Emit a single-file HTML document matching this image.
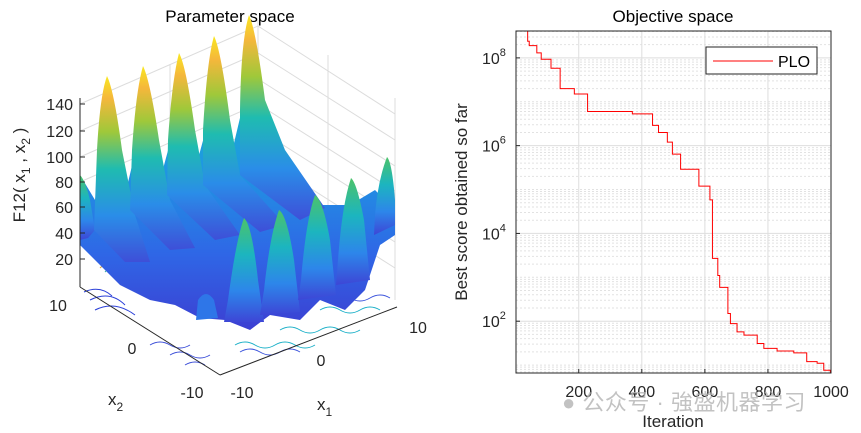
<!DOCTYPE html>
<html><head><meta charset="utf-8"><style>
html,body{margin:0;padding:0;background:#fff;}
svg{display:block;font-family:"Liberation Sans","Noto Sans CJK SC",sans-serif;}
</style></head><body>
<svg id="root" width="861" height="433" viewBox="0 0 861 433">
<defs>
<linearGradient id="pk" x1="0" y1="0" x2="0" y2="1">
<stop offset="0" stop-color="#f9e721"/><stop offset="0.12" stop-color="#f5b73b"/><stop offset="0.3" stop-color="#9fc83a"/><stop offset="0.5" stop-color="#1fbcb0"/><stop offset="0.75" stop-color="#2a8de8"/><stop offset="1" stop-color="#3e4fd8"/>
</linearGradient>
<linearGradient id="sm" x1="0" y1="0" x2="0" y2="1">
<stop offset="0" stop-color="#4cc36a"/><stop offset="0.35" stop-color="#1cb5bf"/><stop offset="0.7" stop-color="#2d86ea"/><stop offset="1" stop-color="#3d46d6"/>
</linearGradient>
<linearGradient id="base" x1="0" y1="0" x2="0" y2="1">
<stop offset="0" stop-color="#19b8c8"/><stop offset="0.35" stop-color="#1f97e2"/><stop offset="0.7" stop-color="#2f66e6"/><stop offset="1" stop-color="#3c3fd2"/>
</linearGradient>
</defs>

<!-- LEFT 3D PLOT -->
<g>
<text x="230" y="22" font-size="17" text-anchor="middle" fill="#000">Parameter space</text>
<g stroke="#dcdcdc" stroke-width="1" fill="none">
<line x1="170" y1="64" x2="170" y2="200"/><line x1="258" y1="20" x2="258" y2="200"/>
<line x1="328" y1="55" x2="328" y2="240"/><line x1="395" y1="98" x2="395" y2="300"/>
<line x1="80" y1="104" x2="258" y2="26"/><line x1="80" y1="131" x2="258" y2="53"/><line x1="80" y1="157" x2="258" y2="79"/>
<line x1="80" y1="182" x2="258" y2="104"/><line x1="80" y1="207" x2="258" y2="129"/>
<line x1="258" y1="26" x2="395" y2="114"/><line x1="258" y1="53" x2="395" y2="140"/><line x1="258" y1="79" x2="395" y2="166"/>
<line x1="258" y1="104" x2="395" y2="191"/><line x1="258" y1="129" x2="395" y2="216"/><line x1="258" y1="155" x2="395" y2="242"/><line x1="258" y1="181" x2="395" y2="268"/>
</g>
<g fill="none" stroke-width="1">
<path d="M84,292 Q100,285 112,296 M90,300 Q110,290 125,305 M95,310 Q115,300 135,315" stroke="#2a3fd8"/>
<path d="M100,268 Q110,258 118,268" stroke="#e2a33a"/>
<path d="M105,272 Q112,264 120,273" stroke="#36b39a"/>
<path d="M150,345 q10,-6 20,0 q10,6 20,0 M170,355 q10,-6 20,0 q10,6 20,0 M185,365 q10,-6 20,0" stroke="#3b4ed8"/>
<path d="M235,345 q10,-6 20,0 q10,6 20,0 q10,-6 20,0 q10,6 20,0 M280,330 q10,-6 20,0 q10,6 20,0 q10,-6 20,0 q10,6 20,0 M320,310 q10,-6 20,0 q10,6 20,0 q10,-6 20,0" stroke="#1db0c8"/>
<path d="M240,352 q10,-6 20,0 q10,6 20,0 q10,-6 20,0 M330,298 q10,-6 20,0 q10,6 20,0 q10,-6 20,0" stroke="#3c54dc"/>
</g>
<path d="M80,175 L95,200 L107,130 L125,195 L143,120 L160,180 L179,110 L195,170 L214,100 L230,160 L249,80 L275,150 L300,190 L320,205 L350,205 L375,190 L395,210 L395,235 L380,245 L365,290 L345,310 L320,300 L300,320 L270,315 L250,330 L225,320 L200,318 L175,305 L150,300 L120,285 L100,265 L85,250 L80,245 Z" fill="url(#base)"/>
<g>
<path d="M80,175 Q85,180 90,200 L95,230 L88,238 L80,240 Z" fill="url(#sm)"/>
<path d="M107,76 Q100,95 97,150 L94,230 L125,262 L150,262 L135,215 L122,150 Q114,90 107,76 Z" fill="url(#pk)"/>
<path d="M143,66 Q136,90 132,150 L130,210 L170,250 L195,248 L170,200 L159,140 Q150,80 143,66 Z" fill="url(#pk)"/>
<path d="M179,53 Q172,80 168,140 L167,195 L215,240 L240,235 L205,185 L195,130 Q186,65 179,53 Z" fill="url(#pk)"/>
<path d="M214,36 Q207,60 203,130 L203,185 L260,232 L285,225 L240,175 L230,120 Q221,50 214,36 Z" fill="url(#pk)"/>
<path d="M249,15 Q241,40 240,110 L240,175 L300,220 L325,208 L285,150 L275,125 L265,100 Q256,30 249,15 Z" fill="url(#pk)"/>
</g>
<g>
<path d="M244,218 Q236,240 228,300 L224,322 L264,322 L258,280 Q252,225 244,218 Z" fill="url(#sm)"/>
<path d="M279,210 Q270,235 264,290 L260,315 L300,312 L294,260 Q287,215 279,210 Z" fill="url(#sm)"/>
<path d="M315,195 Q306,220 301,280 L298,300 L336,295 L330,240 Q323,200 315,195 Z" fill="url(#sm)"/>
<path d="M351,178 Q342,205 338,260 L336,285 L370,280 L364,220 Q357,183 351,178 Z" fill="url(#sm)"/>
<path d="M387,157 Q378,180 375,215 L374,235 L395,225 L395,200 Q392,162 387,157 Z" fill="url(#sm)"/>
<path d="M198,300 Q206,288 214,300 L218,318 L196,320 Z" fill="#2e76e8"/>
</g>
<g stroke="#262626" stroke-width="1" fill="none">
<line x1="80" y1="98" x2="80" y2="287"/>
<line x1="80" y1="287" x2="220" y2="375"/>
<line x1="220" y1="375" x2="397" y2="307"/>
<g><line x1="80" y1="104" x2="85" y2="104"/><line x1="80" y1="131" x2="85" y2="131"/><line x1="80" y1="157" x2="85" y2="157"/><line x1="80" y1="182" x2="85" y2="182"/><line x1="80" y1="207" x2="85" y2="207"/><line x1="80" y1="233" x2="85" y2="233"/><line x1="80" y1="259" x2="85" y2="259"/></g>
</g>
<g font-size="16" fill="#262626" text-anchor="end">
<text x="73" y="110">140</text><text x="73" y="137">120</text><text x="73" y="163">100</text><text x="73" y="188">80</text><text x="73" y="213">60</text><text x="73" y="239">40</text><text x="73" y="265">20</text>
</g>
<g font-size="16" fill="#262626" text-anchor="middle">
<text x="58" y="311">10</text><text x="132" y="354">0</text><text x="192" y="398">-10</text>
<text x="242" y="398">-10</text><text x="321" y="366">0</text><text x="418" y="333">10</text>
</g>
<text transform="translate(25,175) rotate(-90)" font-size="17" text-anchor="middle" fill="#262626">F12( x<tspan font-size="12" dy="5">1</tspan><tspan dy="-5"> , x</tspan><tspan font-size="12" dy="5">2</tspan><tspan dy="-5"> )</tspan></text>
<text x="108" y="405" font-size="17" fill="#262626">x<tspan font-size="12" dy="6">2</tspan></text>
<text x="317" y="410" font-size="17" fill="#262626">x<tspan font-size="12" dy="6">1</tspan></text>
</g>

<!-- RIGHT PLOT -->
<g>
<text x="673" y="22" font-size="17" text-anchor="middle" fill="#000">Objective space</text>
<rect x="516" y="31" width="315" height="342" fill="#fff"/>
<g id="grid"></g>
<path id="line" fill="none" stroke="#ff0000" stroke-width="1"/>
<rect x="516" y="31" width="315" height="342" fill="none" stroke="#262626" stroke-width="1"/>
<g id="ticks" font-size="16" fill="#262626"></g>
<text transform="translate(467,202) rotate(-90)" font-size="17" text-anchor="middle" fill="#262626">Best score obtained so far</text>
<text x="673" y="427" font-size="17" text-anchor="middle" fill="#262626">Iteration</text>
<g>
<rect x="706" y="47" width="111" height="27" fill="#fff" stroke="#262626" stroke-width="1"/>
<line x1="713" y1="61" x2="773" y2="61" stroke="#ff0000"/>
<text x="778" y="67" font-size="16" fill="#000">PLO</text>
</g>
<text x="562" y="410" font-size="22" letter-spacing="0.5" fill="#b4b4b4" opacity="0.8">● 公众号 · 強盛机器学习</text>
</g>
</svg>
<script>
const iterations=[1,38,43,67,81,112,141,186,228,370,434,453,481,497,523,581,616,624,641,647,673,681,702,724,766,787,829,882,923,956,977,998,1000];
const scores=[4.1e8,2.4e8,1.9e8,1.3e8,9.3e7,5.8e7,2.0e7,1.5e7,6.0e6,5.3e6,2.9e6,2.0e6,1.2e6,6.4e5,2.9e5,1.2e5,5.8e4,2.7e3,1.1e3,590,150,88,57,48,31,24,21,19,12,11,7.6,6.6,6.6];
const xTicks=[200,400,600,800,1000];
const yTickExps=[2,4,6,8];
const X0=516,X1=831,Y0=31,Y1=373;
const xMin=1,xMax=1000;
const lMin=Math.log10(Math.min(...scores)),lMax=Math.log10(Math.max(...scores));
const sx=v=>X0+(v-xMin)/(xMax-xMin)*(X1-X0);
const sy=v=>Y1-(Math.log10(v)-lMin)/(lMax-lMin)*(Y1-Y0);
const NS="http://www.w3.org/2000/svg";
const grid=document.getElementById('grid'),ticks=document.getElementById('ticks');
function ln(x1,y1,x2,y2,st,dash){const l=document.createElementNS(NS,'line');l.setAttribute('x1',x1);l.setAttribute('y1',y1);l.setAttribute('x2',x2);l.setAttribute('y2',y2);l.setAttribute('stroke',st);l.setAttribute('stroke-width','1');if(dash)l.setAttribute('stroke-dasharray',dash);return l;}
for(let e=Math.floor(lMin);e<=Math.ceil(lMax);e++){for(let m=1;m<10;m++){const v=m*Math.pow(10,e);const y=sy(v);if(y<Y0||y>Y1)continue;const major=(m===1&&yTickExps.includes(e));const l=ln(X0,y,X1,y,major?'#dedede':'#e2e2e2',major?null:'2,2');


grid.appendChild(l);}}
xTicks.forEach(t=>{const x=sx(t);const l=ln(x,Y0,x,Y1,'#dedede');


grid.appendChild(l);
const tx=document.createElementNS(NS,'text');tx.setAttribute('x',x);tx.setAttribute('y',Y1+24);tx.setAttribute('text-anchor','middle');tx.textContent=t;


ticks.appendChild(tx);
const tk=ln(x,Y1,x,Y1-4,'#262626');


ticks.appendChild(tk);});
yTickExps.forEach(e=>{const y=sy(Math.pow(10,e));
const tx=document.createElementNS(NS,'text');tx.setAttribute('x',X0-34);tx.setAttribute('y',y+6);tx.setAttribute('text-anchor','start');
tx.innerHTML='10<tspan font-size="11" dy="-8">'+e+'</tspan>';


ticks.appendChild(tx);
const tk=ln(X0,y,X0+4,y,'#262626');


ticks.appendChild(tk);});
let d='M'+sx(iterations[0])+','+sy(scores[0]);
for(let i=1;i<iterations.length;i++){d+=' L'+sx(iterations[i])+','+sy(scores[i-1])+' L'+sx(iterations[i])+','+sy(scores[i]);}
document.getElementById('line').setAttribute('d',d);
</script>
</body></html>
